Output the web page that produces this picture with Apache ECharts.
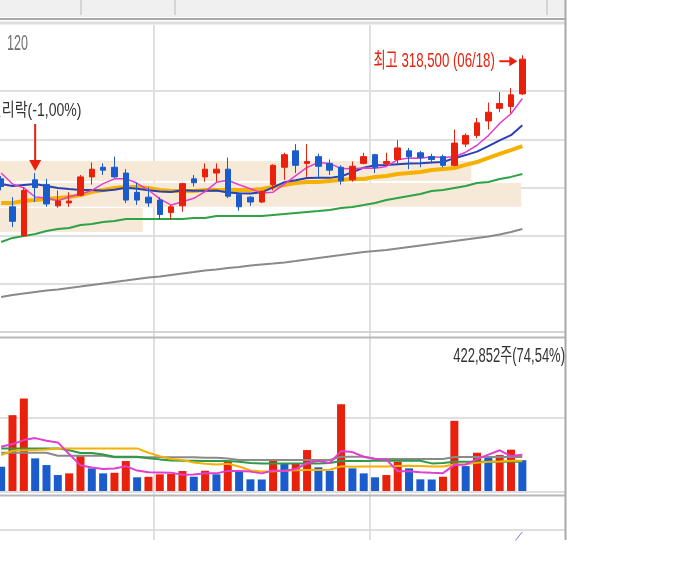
<!DOCTYPE html>
<html><head><meta charset="utf-8">
<script src="https://cdn.jsdelivr.net/npm/echarts/dist/echarts.min.js"></script>
<style>html,body{margin:0;padding:0;background:#fff}#c{width:696px;height:564px}</style>
</head><body><div id="c"></div>
<script>
// ---- data ----
const dates = ['04/13','04/14','04/15','04/16','04/19','04/20','04/21','04/22','04/23','04/26','04/27','04/28','04/29','04/30',
'05/03','05/04','05/06','05/07','05/10','05/11','05/12','05/13','05/14','05/17','05/18','05/20','05/21','05/24','05/25','05/26','05/27','05/28','05/31',
'06/01','06/02','06/03','06/04','06/07','06/08','06/09','06/10','06/11','06/14','06/15','06/16','06/17','06/18'];
const openP  = [254500,240000,225000,254000,251500,240500,242000,246000,255500,260500,260500,257500,247500,245000,243500,237000,240500,254500,255500,257500,259500,246500,245000,242500,251500,260500,269000,262500,266000,262500,260500,254000,262500,267000,262500,264500,269000,268000,266000,266000,261500,272500,277000,284500,291000,292000,298500];
const closeP = [250500,232500,248500,250000,241500,243000,243000,255500,259500,259000,255500,243500,243500,242000,236000,240000,252000,252500,259500,259500,245500,240000,242500,248000,261500,267000,261500,263500,261000,259000,253500,261000,266000,260500,263500,270500,266000,265500,264500,261500,273000,277000,283500,289000,293500,298000,316500];
const lowP   = [248500,229500,224500,242500,240000,239500,240000,245500,251500,256500,255000,242000,241000,240000,233500,233500,237500,250500,253000,253000,244500,238000,240500,242000,248500,254000,257500,255500,254500,256500,251500,253000,262000,257500,261500,262500,259500,260500,262500,260500,261000,271000,275500,280000,289000,288500,298000];
const highP  = [256000,245000,250000,257500,254500,248500,247500,256500,263000,262500,266000,259500,252500,250000,245000,241000,252500,256500,262500,262500,265500,247000,245500,248500,262000,268000,272500,272500,267500,264500,261500,263500,268000,267500,268000,274500,270500,269000,267500,267000,280000,278000,286000,294000,299500,301500,318500];
const ma5   = [257500,251800,249800,245100,244600,243100,245200,246500,248500,252000,254500,254600,252200,248700,244100,240900,242600,244400,247900,252700,253800,251400,249400,247200,247600,251800,256200,260400,263000,262500,259800,259700,260100,260000,260900,264400,265300,265200,265900,265500,266000,268300,271900,276900,283200,288200,296100];
const ma10  = [251800,250800,251300,251800,250800,249800,249200,248700,248700,248300,248800,249900,249400,248600,248000,247700,248600,248300,248300,248400,247400,247000,246900,247500,250100,252800,253800,254900,255100,255000,255800,257900,260300,261500,261700,262100,262500,262600,263000,263200,265200,266800,268600,271400,274400,277100,282200];
const ma20  = [242000,242000,243000,243500,244100,244600,245100,246100,247700,248700,249800,250300,250300,249800,248700,248200,248200,248200,248700,248700,248700,248700,248700,249200,250300,251300,252300,252900,252900,253400,253900,254400,254400,255500,256000,257000,257500,258000,259100,259600,260100,261700,263200,265300,267400,269400,271500];
const ma60  = [221800,223900,224900,225900,227500,228500,229000,230600,231100,232100,232700,233700,233700,233700,233700,233700,233700,234200,234200,235300,235300,235300,235300,235300,235800,236300,236800,237300,237800,238400,239400,239900,240900,242000,243500,244600,245600,246600,248200,248700,249800,250800,252300,252900,254400,255500,257000];
const ma120 = [193300,194300,195100,195900,196700,197200,198000,198700,199500,200300,201100,201800,202600,203400,203900,204700,205500,206200,207000,207500,208300,208800,209600,210100,210600,211200,211900,212700,213500,214300,215000,215800,216600,217100,217600,218400,219200,220000,220700,221500,222300,223100,223900,224600,225700,227000,228500];
const volume = [333000,1041000,1270000,448000,356000,219000,242000,493000,311000,242000,250000,411000,188000,195000,229000,235000,274000,196000,278000,229000,401000,264000,160000,158000,425000,375000,385000,562000,325000,278000,1192000,311000,242000,188000,219000,401000,311000,160000,158000,196000,963000,342000,525000,470000,493000,567285,422852];
const vma5   = [607000,644000,699000,726000,690000,667000,507000,352000,324000,301000,308000,341000,280000,257000,255000,252000,224000,226000,242000,242000,276000,274000,266000,242000,282000,276000,301000,381000,414000,385000,548000,534000,470000,442000,430000,272000,272000,256000,250000,245000,358000,364000,437000,499000,559000,479000,496000];
const vma20  = [493000,552000,560000,562000,570000,585000,585000,585000,585000,585000,585000,585000,585000,525000,479000,438000,425000,390000,375000,365000,375000,337000,281000,267000,270000,278000,285000,288000,289000,291000,338000,333000,336000,335000,335000,343000,345000,343000,337000,336000,364000,368000,386000,401000,405000,414000,416000];
const vma60  = [585000,585000,585000,585000,585000,585000,560000,521000,521000,500000,470000,470000,470000,450000,434000,420000,415000,415000,411000,411000,411000,400000,385000,379000,379000,379000,379000,379000,379000,385000,411000,411000,411000,415000,415000,415000,415000,415000,379000,385000,401000,401000,401000,401000,401000,401000,401000];
const vma120 = [525000,525000,525000,525000,525000,484000,484000,484000,484000,484000,462000,462000,462000,462000,462000,462000,462000,462000,456000,456000,445000,425000,425000,425000,425000,425000,425000,425000,425000,425000,470000,470000,470000,440000,440000,440000,440000,440000,440000,440000,468000,468000,468000,468000,468000,468000,468000];
const lowerInd = [null,null,null,null,null,null,null,null,null,null,null,null,null,null,null,null,null,null,null,null,null,null,null,null,null,null,null,null,null,null,null,null,null,null,null,null,null,null,null,null,null,null,null,null,null,-127,-64];
// boxes: [fromIndex, toIndex, lowPrice, highPrice]
const boxes = [[-0.5,41.5,253400,263700],[-0.5,45.9,240000,252300],[-0.5,12.5,227000,239400]];
const priceGridLines = [200000,225000,250000,275000,300000];
const volGridLines = [1000000];
const eventIdx = 3;
const eventText = '권리락(-1,00%)';
const periodText = '120';

// ---- derived ----
const candleData = dates.map((d,i)=>[openP[i], closeP[i], lowP[i], highP[i]]);
let maxIdx = 0; highP.forEach((v,i)=>{ if (v > highP[maxIdx]) maxIdx = i; });
const fmt = v => v.toLocaleString('en-US');
const maxText = '최고 ' + fmt(highP[maxIdx]) + ' (' + dates[maxIdx] + ')';
const last = volume.length - 1;
const volText = fmt(volume[last]) + '주(' + (volume[last]/volume[last-1]*100).toFixed(2).replace('.', ',') + '%)';
const monthStarts = dates.map((d,i)=> (i>0 && d.slice(0,2)!==dates[i-1].slice(0,2)) ? i : -1).filter(i=>i>0);

const UP = '#e8200c', DOWN = '#1a5ccc';
const FONT = "'Liberation Sans','Noto Sans CJK KR',sans-serif";
const G = {left:-4.5, width:532.5, outerBoundsMode:'none', containLabel:false};
const P = {top:24.4, height:307.9}, V = {top:338, height:153}, B = {top:495, height:45};
const PMIN = 175000, PMAX = 334500, VMAX = 2100000;

const chart = echarts.init(document.getElementById('c'), null, {renderer:'canvas'});

function maLine(data, color, width, xi, yi, z){
  return {type:'line', xAxisIndex:xi, yAxisIndex:yi, data:data, symbol:'none', silent:true, z:z,
    lineStyle:{color:color, width:width}, animation:false};
}
const hl = {color:'#e0e0e0', width:2, type:'solid'};
const CANDLE_SERIES = 9;

const option = {
  animation:false,
  backgroundColor:'#ffffff',
  textStyle:{fontFamily:FONT},
  grid:[
    Object.assign({}, G, P),
    Object.assign({}, G, V),
    Object.assign({}, G, B),
    Object.assign({}, G, P),
    Object.assign({}, G, {top:25, height:515}),
    {left:0, width:565, top:P.top, height:P.height, outerBoundsMode:'none'},
    {left:0, width:565, top:V.top, height:V.height, outerBoundsMode:'none'}
  ],
  xAxis:[
    {type:'category', gridIndex:0, data:dates, show:false},
    {type:'category', gridIndex:1, data:dates, show:false},
    {type:'category', gridIndex:2, data:dates, show:false},
    {type:'value', gridIndex:3, min:-0.5, max:dates.length-0.5, show:false},
    {type:'value', gridIndex:4, min:-0.5, max:dates.length-0.5, show:false},
    {type:'value', gridIndex:5, min:0, max:1, show:false},
    {type:'value', gridIndex:6, min:0, max:1, show:false}
  ],
  yAxis:[
    {type:'value', gridIndex:0, min:PMIN, max:PMAX, show:false},
    {type:'value', gridIndex:1, min:0, max:VMAX, show:false},
    {type:'value', gridIndex:2, min:-100, max:100, show:false},
    {type:'value', gridIndex:3, min:PMIN, max:PMAX, show:false},
    {type:'value', gridIndex:4, min:0, max:1, show:false},
    {type:'value', gridIndex:5, min:PMIN, max:PMAX, show:false},
    {type:'value', gridIndex:6, min:0, max:VMAX, show:false}
  ],
  series:[
    {type:'line', xAxisIndex:4, yAxisIndex:4, data:[], silent:true, z:0,
      markLine:{silent:true, z:0, symbol:'none', label:{show:false}, lineStyle:hl,
        data: monthStarts.map(i=>({xAxis:i-0.5}))}},
    {type:'line', xAxisIndex:5, yAxisIndex:5, data:[], silent:true, z:0,
      markLine:{silent:true, z:0, symbol:'none', label:{show:false}, lineStyle:hl,
        data: priceGridLines.map(v=>({yAxis:v}))}},
    {type:'line', xAxisIndex:6, yAxisIndex:6, data:[], silent:true, z:0,
      markLine:{silent:true, z:0, symbol:'none', label:{show:false}, lineStyle:hl,
        data: volGridLines.map(v=>({yAxis:v}))}},
    {type:'line', xAxisIndex:3, yAxisIndex:3, data:[], silent:true, z:1,
      markArea:{silent:true, z:1, itemStyle:{color:'#f7e9d7'},
        data: boxes.map(b=>[{xAxis:b[0], yAxis:b[2]},{xAxis:b[1], yAxis:b[3]}])}},
    maLine(ma120, '#8a8a8a', 2, 0, 0, 3),
    maLine(ma60, '#2ea346', 2, 0, 0, 3),
    maLine(ma20, '#f5b000', 4, 0, 0, 3),
    maLine(ma10, '#2b41b3', 2, 0, 0, 3),
    maLine(ma5, '#e23fcf', 1.5, 0, 0, 3),
    {type:'candlestick', xAxisIndex:0, yAxisIndex:0, data:candleData, barWidth:6, z:4, silent:true,
      itemStyle:{color:UP, color0:DOWN, borderColor:UP, borderColor0:DOWN, borderWidth:1},
      markPoint:{silent:true, z:6, animation:false, label:{show:false},
        data:[
          {coord:[dates[eventIdx], highP[eventIdx]], symbol:'path://M5,0L7,0L7,36L12,36L6,47L0,36L5,36Z',
            symbolSize:[12,47], symbolOffset:[0,-25.5], itemStyle:{color:UP}},
          {coord:[dates[maxIdx], highP[maxIdx]], symbol:'path://M0,4L10,4L10,0L18,5L10,10L10,6L0,6Z',
            symbolSize:[18,10], symbolOffset:[-14,6], itemStyle:{color:UP}}
        ]}},
    {type:'bar', xAxisIndex:1, yAxisIndex:1, barWidth:8, z:3, silent:true,
      data: volume.map((v,i)=>({value:v, itemStyle:{color:(i>0 && v>volume[i-1]) ? UP : DOWN}}))},
    maLine(vma120, '#8a8a8a', 2, 1, 1, 4),
    maLine(vma60, '#2e9a45', 2, 1, 1, 4),
    maLine(vma20, '#f5b000', 2, 1, 1, 4),
    maLine(vma5, '#e23fcf', 2, 1, 1, 4),
    maLine(lowerInd, '#6a7fd8', 1, 2, 2, 4)
  ]
};
chart.setOption(option);

// decorations and text labels anchored through the chart's own scales
const pEvent = chart.convertToPixel({seriesIndex:CANDLE_SERIES}, [dates[eventIdx], highP[eventIdx]]);
const pMax = chart.convertToPixel({seriesIndex:CANDLE_SERIES}, [dates[maxIdx], highP[maxIdx]]);
function ln(id, x1, y1, x2, y2, c, w){ return {id:id, type:'line', shape:{x1:x1,y1:y1,x2:x2,y2:y2}, style:{stroke:c, lineWidth:w}, z:10, silent:true}; }
function txt(id, x, y, text, size, sx, color, align){
  return {id:id, type:'text', x:x, y:y, scaleX:sx, z:10, silent:true,
    style:{text:text, fill:color, font:size + 'px ' + FONT, textAlign:align, textVerticalAlign:'middle'}};
}
chart.setOption({graphic:[
  {id:'tb', type:'rect', shape:{x:0,y:0,width:565,height:17}, style:{fill:'#f0f0f0'}, z:10, silent:true},
  ln('s1', 81,0,81,15,'#b8b8b8',1),
  ln('s2', 175,0,175,15,'#b8b8b8',1),
  ln('s3', 547,0,547,15,'#b8b8b8',1),
  ln('h1', 0,19,565,19,'#a9a9a9',2),
  ln('h2', 0,23,565,23,'#dedede',3),
  ln('h3', 0,332,565,332,'#d4d4d4',2),
  ln('h4', 0,337.5,565,337.5,'#b8b8b8',2),
  ln('h5', 0,492,565,492,'#dedede',2),
  ln('h6', 0,495.5,565,495.5,'#b8b8b8',2),
  ln('h7', 0,530,565,530,'#dedede',2),
  ln('rb', 565.5,0,565.5,540,'#a8a8a8',2),
  txt('t120', 7, 44, periodText, 22, 0.57, '#707070', 'left'),
  txt('tev', pEvent[0], pEvent[1] - 62, eventText, 18, 0.78, '#333333', 'center'),
  txt('tmax', pMax[0] - 27.5, pMax[1] + 6, maxText, 21, 0.63, UP, 'right'),
  txt('tvol', 565, 356, volText, 20, 0.65, '#333333', 'right')
]});
</script></body></html>
